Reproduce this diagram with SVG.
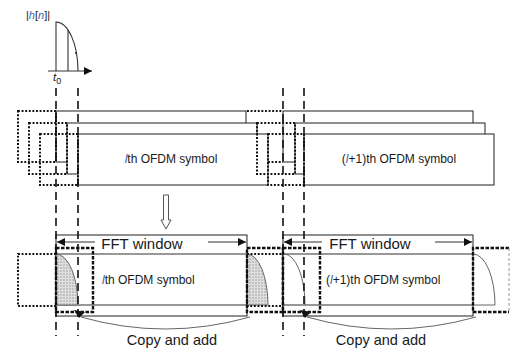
<svg xmlns="http://www.w3.org/2000/svg" width="510" height="350" viewBox="0 0 510 350">
<defs>
<style>
.sym{fill:#fff;stroke:#333;stroke-width:1.1}
.dot{fill:none;stroke:#111;stroke-width:2;stroke-dasharray:1.9 1.7}
.thick{fill:none;stroke:#111;stroke-width:2.4;stroke-dasharray:3.5 1.5}
.vdash{fill:none;stroke:#111;stroke-width:1.6;stroke-dasharray:8 5}
.ln{fill:none;stroke:#333;stroke-width:1.1}
.crv{fill:none;stroke:#666;stroke-width:1}
.t{font-family:"Liberation Sans",Arial,sans-serif;fill:#1a1a1a}
.lt{font-style:italic;fill:#3a64a8}
.ah{fill:#111}
</style>
<pattern id="stip" width="3" height="3" patternUnits="userSpaceOnUse"><rect width="3" height="3" fill="#e0e0e0"/><circle cx="1" cy="1" r="0.7" fill="#8a8a8a"/></pattern>
<marker id="arr" viewBox="0 0 10 10" refX="10" refY="5" markerWidth="9" markerHeight="8" markerUnits="userSpaceOnUse" orient="auto"><path d="M0,0 L10,5 L0,10 Z" fill="#111"/></marker>
<path id="cah" d="M-5,-5 L6,-3 L0,3 Z"/>
</defs>

<g id="impulse-response">
<text class="t" x="26" y="19" font-size="11">|<tspan class="lt">h</tspan>[<tspan class="lt">n</tspan>]|</text>
<path class="ln" d="M56,71 L56,22 A22,49 0 0 1 78,71"/>
<line class="ln" x1="68" y1="30" x2="68" y2="71"/>
<circle cx="76" cy="53" r="1" fill="#222"/>
<line class="ln" x1="48" y1="71" x2="92" y2="71" marker-end="url(#arr)"/>
<text class="t" x="53" y="81" font-size="11.5" font-style="italic">t<tspan font-size="9" font-style="normal" dy="3">0</tspan></text>
</g>

<g id="symbol-l-received">
<rect class="sym" x="56" y="111" width="190" height="51"/>
<rect class="sym" x="67" y="123" width="190" height="51"/>
<rect class="sym" x="78" y="134" width="190" height="51"/>
<rect class="dot" x="18" y="111" width="38" height="51"/>
<rect class="dot" x="29" y="123" width="38" height="51"/>
<rect class="dot" x="40" y="134" width="38" height="51"/>
<text class="t" x="171" y="163" font-size="12" text-anchor="middle"><tspan class="lt">l</tspan>th OFDM symbol</text>
</g>

<g id="symbol-l1-received">
<rect class="sym" x="283" y="111" width="190" height="51"/>
<rect class="sym" x="295" y="123" width="190" height="51"/>
<rect class="sym" x="304" y="134" width="190" height="51"/>
<path class="dot" d="M247,111 L283,111 M268,162 L283,162"/>
<rect class="dot" x="257" y="123" width="38" height="51"/>
<rect class="dot" x="268" y="134" width="36" height="51"/>
<text class="t" x="399" y="163" font-size="12" text-anchor="middle">(<tspan class="lt">l</tspan>+1)th OFDM symbol</text>
</g>

<g id="symbol-l-window">
<rect class="sym" x="56" y="235" width="191" height="81"/>
<line class="ln" x1="56" y1="254" x2="247" y2="254"/>
<line class="ln" x1="56" y1="305" x2="247" y2="305"/>
<rect class="dot" x="18" y="254" width="38" height="52"/>
<path d="M56,254 A22,51 0 0 1 78,305 L56,305 Z" fill="url(#stip)" stroke="#666" stroke-width="1"/>
<rect class="thick" x="56" y="248" width="37" height="64"/>
<line class="ln" x1="95" y1="242" x2="57" y2="242" marker-end="url(#arr)"/>
<line class="ln" x1="208" y1="242" x2="246" y2="242" marker-end="url(#arr)"/>
<text class="t" x="142" y="248.5" font-size="15" text-anchor="middle">FFT window</text>
<text class="t" x="102" y="284" font-size="12"><tspan class="lt">l</tspan>th OFDM symbol</text>
<path d="M247,254 A21,51 0 0 1 268,305 L247,305 Z" fill="url(#stip)" stroke="#666" stroke-width="1"/>
<rect class="dot" x="247" y="254" width="36" height="52"/>
<rect class="thick" x="247" y="248" width="36" height="64"/>
</g>

<g id="symbol-l1-window">
<rect class="sym" x="283" y="235" width="190" height="81"/>
<line class="ln" x1="283" y1="254" x2="473" y2="254"/>
<line class="ln" x1="283" y1="305" x2="473" y2="305"/>
<path class="crv" d="M284,254 A21,51 0 0 1 305,305"/>
<rect class="thick" x="283" y="248" width="37" height="64"/>
<line class="ln" x1="322" y1="242" x2="284" y2="242" marker-end="url(#arr)"/>
<line class="ln" x1="435" y1="242" x2="472" y2="242" marker-end="url(#arr)"/>
<text class="t" x="370" y="248.5" font-size="15" text-anchor="middle">FFT window</text>
<text class="t" x="326" y="284" font-size="12">(<tspan class="lt">l</tspan>+1)th OFDM symbol</text>
<path class="crv" d="M473,254 A22,51 0 0 1 495,305 L473,305"/>
<path class="thick" d="M509,248 L473,248 L473,312 L509,312"/>
<line x1="509" y1="248" x2="509" y2="312" stroke="#999" stroke-width="1" stroke-dasharray="3 2"/>
</g>

<g id="connectors">
<line class="vdash" x1="56" y1="88" x2="56" y2="336"/>
<line class="vdash" x1="78" y1="88" x2="78" y2="336"/>
<line class="vdash" x1="283" y1="88" x2="283" y2="336"/>
<line class="vdash" x1="304" y1="88" x2="304" y2="336"/>
<path d="M163.5,195 L168.5,195 L168.5,220 L171,220 L166,229 L161,220 L163.5,220 Z" fill="#fff" stroke="#555" stroke-width="1"/>
<path class="crv" d="M250,317 Q165,341 81,317"/>
<use href="#cah" class="ah" transform="translate(79,315)"/>
<path class="crv" d="M476,317 Q391,341 307,317"/>
<use href="#cah" class="ah" transform="translate(305,315)"/>
</g>

<text class="t" x="172" y="345" font-size="14.5" text-anchor="middle">Copy and add</text>
<text class="t" x="381" y="345" font-size="14.5" text-anchor="middle">Copy and add</text>
</svg>
